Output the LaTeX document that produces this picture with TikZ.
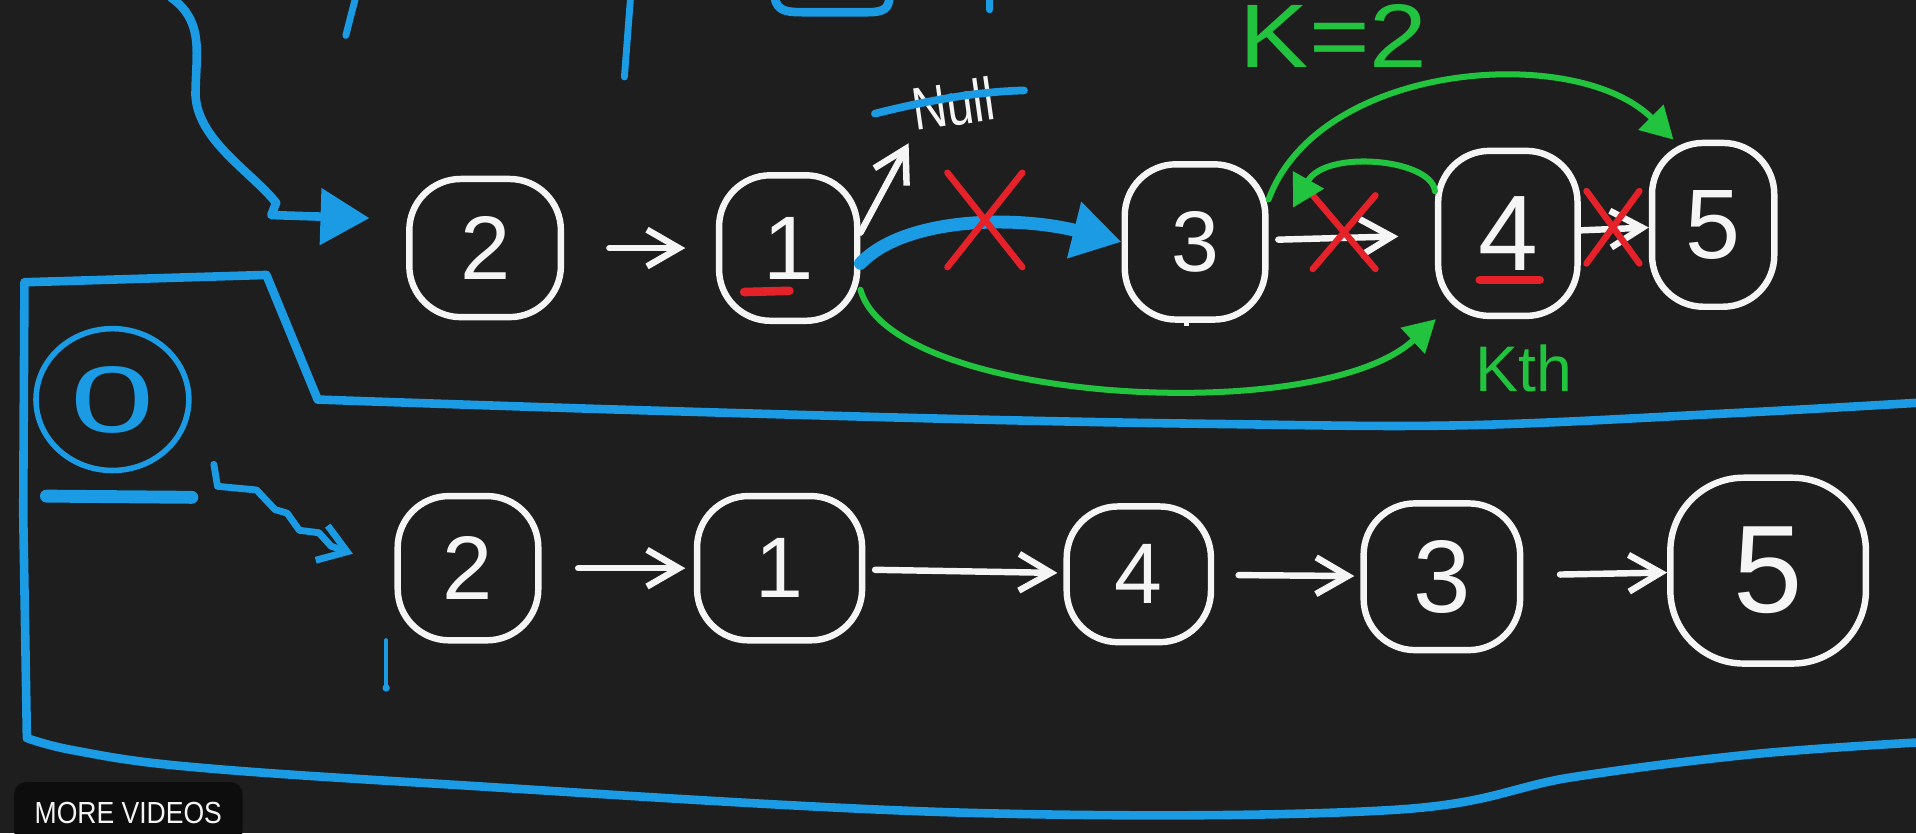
\documentclass[tikz,border=0pt]{standalone}
\usepackage{fontspec}
\setmainfont{Liberation Sans}
\usetikzlibrary{arrows.meta,positioning,shapes.misc,shapes.geometric}
\definecolor{board}{HTML}{1E1E1E}
\definecolor{chalk}{HTML}{F5F5F5}
\definecolor{penblue}{HTML}{1A9BE3}
\definecolor{pengreen}{HTML}{22C33E}
\definecolor{penred}{HTML}{E5222A}
\definecolor{btnbg}{HTML}{0D0D0D}

\begin{document}
\begin{tikzpicture}[
  x=0.01cm, y=-0.01cm,
  lnode/.style={draw=chalk, line width=1.5pt, rounded corners=4.2mm, inner sep=0pt, text=chalk, font=\fontsize{21}{21}\selectfont},
  arr/.style={-{Straight Barb[length=2.6mm, width=3mm]}, line width=1.5pt, color=chalk, line cap=round},
  blu/.style={line width=2pt, color=penblue, line cap=round, line join=round},
  bluarr/.style={blu, -{Triangle[length=4mm, width=4.5mm]}},
  grn/.style={line width=1.4pt, color=pengreen, line cap=round, -{Triangle[length=2.6mm, width=2.8mm]}},
  redx/.style={cross out, draw=penred, line width=1.5pt, line cap=round, inner sep=0pt},
  uline/.style={penred, line width=2pt, line cap=round},
  lbl/.style={inner sep=0pt, text=pengreen},
]
  \useasboundingbox (0,0) rectangle (1568,682);
  \fill[board] (0,0) rectangle (1568,682);
  \clip (0,0) rectangle (1568,682);

  % leftovers at the top
  \draw[blu, line width=1.6pt] (283,29) -- (291,-2);
  \draw[blu, line width=1.6pt] (511,63) -- (516,-2);
  \draw[blu] (634,-2) .. controls (636,10) and (645,10) .. (660,10) -- (710,10) .. controls (725,10) and (727,6) .. (728,-2);
  \draw[blu, line width=1.6pt] (810,-2) -- (810,8);
  \node[lbl, font=\fontsize{21}{21}\selectfont, anchor=base west] (kval) at (1014,55) {\scalebox{1.15}[1]{K=2}};

  % list before
  \node[lnode, minimum width=1.24cm, minimum height=1.13cm] (t2) at (397,203) {2};
  \node[lnode, minimum width=1.13cm, minimum height=1.19cm] (t1) at (645,203) {1};
  \node[lnode, minimum width=1.15cm, minimum height=1.27cm, font=\fontsize{20}{20}\selectfont] (t3) at (978,198) {3};
  \node[lnode, minimum width=1.14cm, minimum height=1.35cm, font=\fontsize{25}{25}\selectfont] (t4) at (1234,191) {4};
  \node[lnode, minimum width=1.00cm, minimum height=1.34cm, font=\fontsize{23}{23}\selectfont] (t5) at (1402,184) {5};
  \node[text=chalk, inner sep=0pt, rotate=8, font=\fontsize{14}{14}\selectfont] (null) at (780,85) {\scalebox{0.8}[1]{Null}};

  \draw[uline] (609,239) -- (646,238);
  \draw[uline] (1211,229) -- (1260,229);
  \draw[chalk, line width=1.2pt] (971,260) -- (971,267);

  \coordinate (topin) at (140,-2);
  \draw[bluarr, shorten >=3mm] (topin) .. controls (168,18) and (160,45) .. (160,78) .. controls (162,115) and (205,140) .. (226,166) -- (222,176) -- (t2.160);

  \draw[arr, shorten <=3.7mm, shorten >=2.5mm] (t2) -- (t1);
  \draw[arr, shorten >=1mm] (t1.12) -- (null.south west);
  \draw[blu, line width=1.8pt] (716,93) .. controls (760,82) and (800,75) .. (838,74);
  \draw[bluarr, line width=3pt] (t1.-12) .. controls (740,178) and (830,176) .. (t3.west);
  \draw[arr, shorten <=0.8mm, shorten >=3mm] (t3) -- (t4);
  \draw[arr] (t4) -- (t5);

  \node[redx, minimum width=0.56cm, minimum height=0.72cm] (x1) at (806,180) {};
  \node[redx, minimum width=0.46cm, minimum height=0.55cm] (x2) at (1100,190) {};
  \node[redx, minimum width=0.38cm, minimum height=0.54cm] (x3) at (1320,186) {};

  \draw[grn] (t3.30) .. controls (1080,50) and (1290,35) .. (t5.115);
  \draw[grn] (t4.150) .. controls (1172,130) and (1085,122) .. ([xshift=2mm]t3.25);
  \draw[grn] (t1.-30) .. controls (730,330) and (1080,350) .. (t4.230);
  \node[lbl, font=\fontsize{15}{15}\selectfont, below=2mm of t4, xshift=1.3mm] (kth) {Kth};

  % answer box
  \draw[blu] plot[smooth, tension=0.6] coordinates {(1580,329) (1420,338) (1200,348) (1000,347) (786,343) (500,335) (260,327)}
    -- (218,225) -- (20,231) -- (19,420) -- (22,604)
    -- plot[smooth, tension=0.6] coordinates {(22,604) (60,614) (150,627) (351,641) (786,665) (1137,663) (1287,636) (1437,617) (1580,607)};
  \node[draw=penblue, line width=1.3pt, ellipse, inner sep=0pt, minimum width=1.25cm, minimum height=1.16cm, text=penblue, font=\fontsize{22}{22}\selectfont] (zero) at (92,327) {\scalebox{1.6}[1]{0}};
  \draw[blu, line width=3pt] (38,406) -- (157,407);

  % list after
  \node[lnode, minimum width=1.15cm, minimum height=1.18cm] (b2) at (383,465) {2};
  \node[lnode, minimum width=1.35cm, minimum height=1.18cm, font=\fontsize{20}{20}\selectfont] (b1) at (638,465) {1};
  \node[lnode, minimum width=1.18cm, minimum height=1.11cm, font=\fontsize{20}{20}\selectfont] (b4) at (932,470) {4};
  \node[lnode, minimum width=1.28cm, minimum height=1.20cm, font=\fontsize{24}{24}\selectfont] (b3) at (1180,472) {3};
  \node[lnode, minimum width=1.60cm, minimum height=1.52cm, rounded corners=6mm, font=\fontsize{29}{29}\selectfont] (b5) at (1447,467) {5};

  \coordinate (sq) at (175,380);
  \draw[blu, line width=1.6pt, -{Straight Barb[length=2.2mm, width=3mm]}, shorten >=3.6mm] (sq) -- (178,398) -- (210,401) -- (225,417) -- (235,420) -- (245,434) -- (261,436) -- (271,447) -- (b2.west);
  \draw[blu, line width=1pt] (316,524) -- (316,562);
  \fill[penblue] (316,563) circle (0.3mm);

  \draw[arr, shorten <=3mm, shorten >=0.7mm] (b2) -- (b1);
  \draw[arr, shorten <=0.8mm, shorten >=0.5mm] (b1) -- (b4);
  \draw[arr, shorten <=2mm, shorten >=0.5mm] (b4) -- (b3);
  \draw[arr, shorten <=3mm] (b3) -- (b5);

  \node[fill=btnbg, rounded corners=1mm, minimum width=1.87cm, minimum height=0.5cm, text=chalk, font=\fontsize{7.1}{7.1}\selectfont] (more) at (105,665) {\scalebox{0.87}[1]{MORE VIDEOS}};
\end{tikzpicture}
\end{document}
